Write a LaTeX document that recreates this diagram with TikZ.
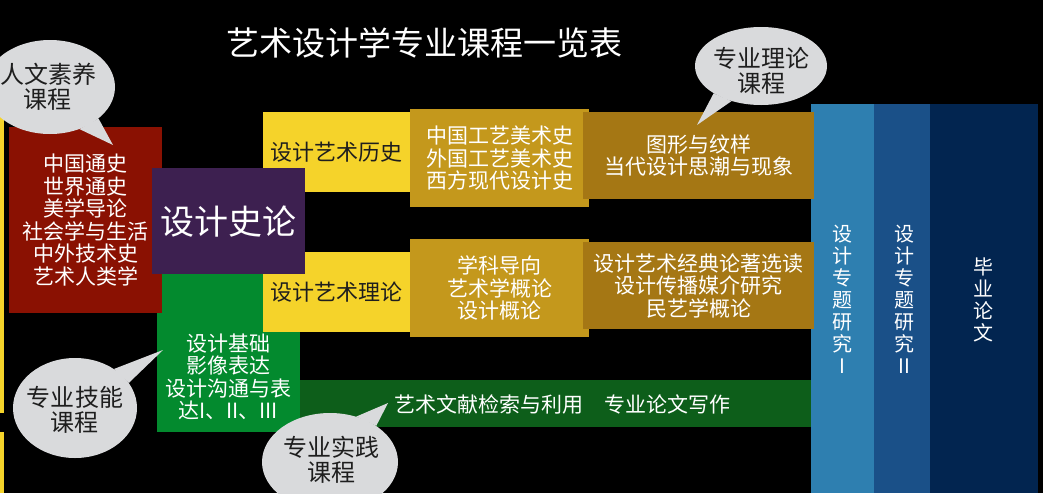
\documentclass[tikz,border=0pt]{standalone}
\usepackage{fontspec}
\setmainfont{Noto Sans CJK SC}
\usetikzlibrary{shapes.geometric}
\definecolor{cred}{RGB}{138,17,2}
\definecolor{cpurple}{RGB}{61,32,80}
\definecolor{cyellow}{RGB}{245,211,42}
\definecolor{cgold}{RGB}{196,152,28}
\definecolor{cdgold}{RGB}{165,119,20}
\definecolor{cgreen}{RGB}{3,138,46}
\definecolor{cdgreen}{RGB}{13,94,26}
\definecolor{cblueA}{RGB}{46,127,176}
\definecolor{cblueB}{RGB}{26,80,136}
\definecolor{cblueC}{RGB}{2,37,80}
\definecolor{cbubble}{RGB}{217,218,220}
\definecolor{cdark}{RGB}{30,30,30}
\newcommand{\fsz}[2]{\fontsize{#1}{#2}\selectfont}
\begin{document}
\begin{tikzpicture}[x=1pt,y=-1pt,
  box/.style={rectangle, inner sep=0pt, anchor=north west, align=center, text=white},
  body/.style={font=\fsz{21}{22.5}},
  vtext/.style={align=center, text=white, inner sep=0pt, font=\fsz{20}{22}},
  bubble/.style={ellipse, fill=cbubble, inner sep=0pt},
  btext/.style={align=center, text=cdark, inner sep=0pt, font=\fsz{24}{24.5}}]
\fill[black] (0,0) rectangle (1043,493);
\useasboundingbox (0,0) rectangle (1043,493);
% title
\node[text=white, font=\fsz{33}{36}] (title) at (424,43) {艺术设计学专业课程一览表};
% blue columns
\node[box, fill=cblueA, minimum width=63, minimum height=389] (colA) at (811,104) {};
\node[box, fill=cblueB, minimum width=56, minimum height=389] (colB) at (874,104) {};
\node[box, fill=cblueC, minimum width=108, minimum height=389] (colC) at (930,104) {};
\node[vtext] (tA) at (842,299) {设\\计\\专\\题\\研\\究\\I};
\node[vtext] (tB) at (904,299) {设\\计\\专\\题\\研\\究\\II};
\node[vtext] (tC) at (983,300) {毕\\业\\论\\文};
% left strips
\fill[cyellow] (0,113) rectangle (4,413);
\fill[cyellow] (0,432) rectangle (4,493);
% green
\node[box, fill=cgreen, minimum width=143, minimum height=172] (green) at (157,260) {};
% yellow
\node[box, fill=cyellow, text=cdark, minimum width=147, minimum height=80, font=\fsz{22}{24}] (y1) at (263,112) {设计艺术历史};
\node[box, fill=cyellow, text=cdark, minimum width=147, minimum height=80, font=\fsz{22}{24}] (y2) at (263,252) {设计艺术理论};
% red
\node[box, fill=cred, body, minimum width=153, minimum height=186] (red) at (9,127)
  {中国通史\\世界通史\\美学导论\\社会学与生活\\中外技术史\\艺术人类学};
% purple
\node[box, fill=cpurple, minimum width=153, minimum height=106, font=\fsz{34}{36}] (purple) at (152,168) {设计史论};
% gold
\node[box, fill=cgold, body, minimum width=179, minimum height=98] (g1) at (410,109)
  {中国工艺美术史\\外国工艺美术史\\西方现代设计史};
\node[box, fill=cgold, body, minimum width=179, minimum height=98] (g2) at (410,239)
  {学科导向\\艺术学概论\\设计概论};
\node[box, fill=cdgold, body, minimum width=231, minimum height=87] (d1) at (583,112)
  {图形与纹样\\当代设计思潮与现象};
\node[box, fill=cdgold, body, minimum width=231, minimum height=87] (d2) at (583,242)
  {设计艺术经典论著选读\\设计传播媒介研究\\民艺学概论};
% dark green strip
\node[box, fill=cdgreen, minimum width=511, minimum height=47] (strip) at (300,380) {};
\node[text=white, inner sep=0pt, font=\fsz{21}{22.5}] (striptxt) at (562,404) {艺术文献检索与利用　专业论文写作};
\node[text=white, inner sep=0pt, align=center, body] (greentxt) at (228,377)
  {设计基础\\影像表达\\设计沟通与表\\达I、II、III};
% callouts
\node[bubble, minimum width=130, minimum height=94] (c1) at (50,87) {};
\coordinate (k1) at (113,145);
\fill[cbubble] (c1.-55) -- (k1) -- (c1.-33) -- cycle;
\node[btext] (b1) at (48,87) {人文素养\\课程};
\node[bubble, minimum width=132, minimum height=78] (c2) at (761,66) {};
\coordinate (k2) at (697,125);
\fill[cbubble] (c2.-150) -- (k2) -- (c2.-130) -- cycle;
\node[btext] (b2) at (761,71) {专业理论\\课程};
\node[bubble, minimum width=124, minimum height=100] (c3) at (75,408) {};
\coordinate (k3) at (163,350);
\fill[cbubble] (c3.45) -- (k3) -- (c3.25) -- cycle;
\node[btext] (b3) at (75,410) {专业技能\\课程};
\node[bubble, minimum width=136, minimum height=98] (c4) at (330,462) {};
\coordinate (k4) at (388,403);
\fill[cbubble] (c4.60) -- (k4) -- (c4.38) -- cycle;
\node[btext] (b4) at (331,460) {专业实践\\课程};
\end{tikzpicture}
\end{document}
